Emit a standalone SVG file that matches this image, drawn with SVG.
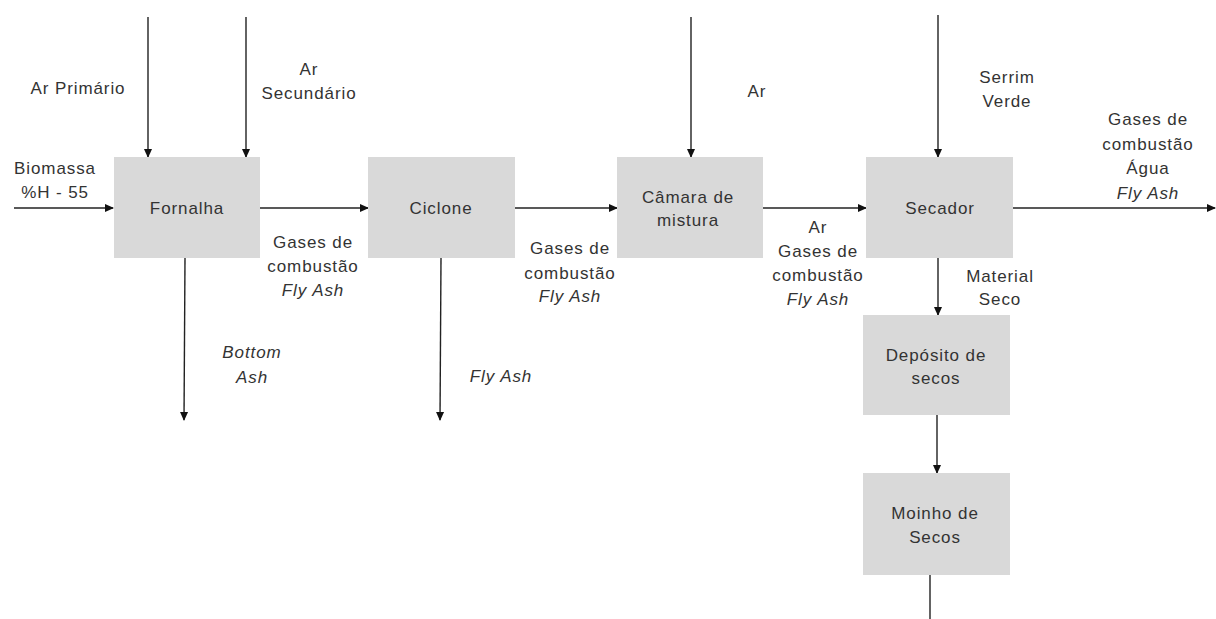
<svg xmlns="http://www.w3.org/2000/svg" width="1216" height="619" viewBox="0 0 1216 619">
<defs>
<marker id="ah" markerWidth="9" markerHeight="9" refX="8" refY="4.5" orient="auto" markerUnits="userSpaceOnUse">
<path d="M0,0.5 L9,4.5 L0,8.5 Z" fill="#111"/>
</marker>
<style>
.box{fill:#d9d9d9;stroke:none}
.t{font-family:"Liberation Sans",Arial,sans-serif;font-size:17px;letter-spacing:0.9px;fill:#333;text-anchor:middle}
.i{font-style:italic}
.c{stroke:#222;stroke-width:1.4;fill:none}
.a{marker-end:url(#ah)}
</style>
</defs>
<rect width="1216" height="619" fill="#fff"/>
<g id="connectors">
<line class="c a" x1="14" y1="208" x2="113" y2="208"/>
<line class="c a" x1="148" y1="17" x2="148" y2="157"/>
<line class="c a" x1="246" y1="17" x2="246" y2="157"/>
<line class="c a" x1="260" y1="208" x2="368" y2="208"/>
<line class="c a" x1="185" y1="258" x2="184" y2="420"/>
<line class="c a" x1="441" y1="258" x2="440" y2="420"/>
<line class="c a" x1="515" y1="208" x2="617" y2="208"/>
<line class="c a" x1="691" y1="17" x2="691" y2="157"/>
<line class="c a" x1="763" y1="208" x2="866" y2="208"/>
<line class="c a" x1="938" y1="15" x2="938" y2="157"/>
<line class="c a" x1="1013" y1="208" x2="1215" y2="208"/>
<line class="c a" x1="938" y1="258" x2="938" y2="315"/>
<line class="c a" x1="937" y1="415" x2="937" y2="473"/>
<line class="c" x1="930" y1="575" x2="930" y2="619"/>
</g>
<g id="fornalha"><rect class="box" x="114" y="157" width="146" height="101"/><text class="t" x="187" y="214">Fornalha</text></g>
<g id="ciclone"><rect class="box" x="368" y="157" width="147" height="101"/><text class="t" x="441" y="214">Ciclone</text></g>
<g id="camara"><rect class="box" x="617" y="157" width="146" height="101"/><text class="t" x="688" y="203">Câmara de</text><text class="t" x="688" y="226">mistura</text></g>
<g id="secador"><rect class="box" x="866" y="157" width="147" height="101"/><text class="t" x="940" y="214">Secador</text></g>
<g id="deposito"><rect class="box" x="863" y="315" width="147" height="100"/><text class="t" x="936" y="361">Depósito de</text><text class="t" x="936" y="384">secos</text></g>
<g id="moinho"><rect class="box" x="863" y="473" width="147" height="102"/><text class="t" x="935" y="519">Moinho de</text><text class="t" x="935" y="543">Secos</text></g>
<g id="labels">
<text class="t" x="78" y="94">Ar Primário</text>
<text class="t" x="309" y="75">Ar</text>
<text class="t" x="309" y="99">Secundário</text>
<text class="t" x="55" y="174">Biomassa</text>
<text class="t" x="55" y="198">%H - 55</text>
<text class="t" x="313" y="248">Gases de</text>
<text class="t" x="313" y="272">combustão</text>
<text class="t i" x="313" y="296">Fly Ash</text>
<text class="t i" x="252" y="358">Bottom</text>
<text class="t i" x="252" y="383">Ash</text>
<text class="t i" x="501" y="382">Fly Ash</text>
<text class="t" x="570" y="254">Gases de</text>
<text class="t" x="570" y="279">combustão</text>
<text class="t i" x="570" y="302">Fly Ash</text>
<text class="t" x="757" y="97">Ar</text>
<text class="t" x="818" y="233">Ar</text>
<text class="t" x="818" y="257">Gases de</text>
<text class="t" x="818" y="281">combustão</text>
<text class="t i" x="818" y="305">Fly Ash</text>
<text class="t" x="1007" y="83">Serrim</text>
<text class="t" x="1007" y="107">Verde</text>
<text class="t" x="1148" y="125">Gases de</text>
<text class="t" x="1148" y="150">combustão</text>
<text class="t" x="1148" y="174">Água</text>
<text class="t i" x="1148" y="199">Fly Ash</text>
<text class="t" x="1000" y="282">Material</text>
<text class="t" x="1000" y="305">Seco</text>
</g>
</svg>
